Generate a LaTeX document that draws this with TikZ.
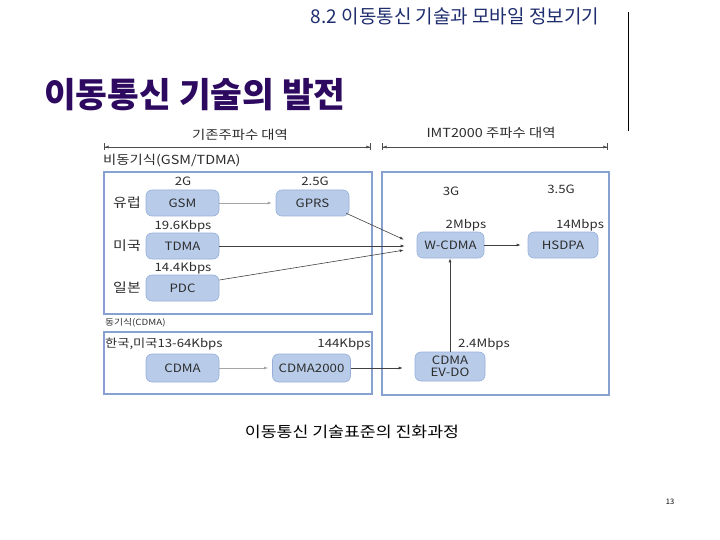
\documentclass[tikz,border=0pt]{standalone}
\usepackage{fontspec}
\newfontfamily\kr{Noto Sans CJK KR}
\newfontfamily\krw{Noto Sans CJK KR}[FakeStretch=1.15]
\usetikzlibrary{arrows.meta}
\definecolor{hdr}{RGB}{30,45,110}
\definecolor{ttl}{RGB}{45,10,95}
\definecolor{boxline}{RGB}{135,162,208}
\definecolor{nodefill}{RGB}{184,204,234}
\definecolor{nodeline}{RGB}{150,175,215}
\definecolor{txt}{RGB}{45,45,45}
\begin{document}
\begin{tikzpicture}[x=1pt,y=-1pt,
  every node/.style={font=\krw, text=txt, inner sep=0pt},
  outerbox/.style={draw=boxline, line width=1.8pt, fill=none},
  tech/.style={draw=nodeline, fill=nodefill, rounded corners=6pt, line width=0.6pt, font=\krw\fontsize{11.5}{12.5}\selectfont},
  lbl/.style={font=\krw\fontsize{11.5}{13}\selectfont},
  biglbl/.style={font=\krw\fontsize{12.5}{14}\selectfont},
  conn/.style={draw=black!75, line width=0.6pt, -{Latex[length=4pt,width=3pt]}},
  lightconn/.style={draw=black!35, line width=0.6pt, -{Latex[length=4pt,width=3pt]}},
  dim/.style={draw=black!70, line width=0.6pt, {Bar[width=7pt]Latex[length=4pt,width=3pt]}-{Latex[length=4pt,width=3pt]Bar[width=7pt]}}
]
\useasboundingbox (0,0) rectangle (720,540);
% header
\node[font=\kr\fontsize{19}{22}\selectfont, text=hdr] (hdrtxt) at (455,16) {8.2 이동통신 기술과 모바일 정보기기};
\coordinate (vtop) at (628,12);
\coordinate (vbot) at (628,131);
\draw[line width=1pt, black] (vtop) -- (vbot);
\node[font=\kr\bfseries\fontsize{34.5}{38}\selectfont, text=ttl, anchor=west] (title) at (44,95) {이동통신 기술의 발전};
% dimension lines
\coordinate (d1a) at (104,147); \coordinate (d1b) at (371,147);
\coordinate (d2a) at (382,147); \coordinate (d2b) at (608,147);
\draw[dim] (d1a) -- (d1b);
\draw[dim] (d2a) -- (d2b);
\node[biglbl] (band1) at (240,135) {기존주파수 대역};
\node[biglbl] (band2) at (491,133) {IMT2000 주파수 대역};
% group labels
\node[biglbl, anchor=west] (async) at (103,161) {비동기식(GSM/TDMA)};
\node[font=\krw\fontsize{8.5}{9}\selectfont, anchor=west] (sync) at (105,323) {동기식(CDMA)};
% outer boxes
\node[outerbox, minimum width=268pt, minimum height=142pt] (box1) at (238,243) {};
\node[outerbox, minimum width=227pt, minimum height=223pt] (box2) at (495.5,283.5) {};
\node[outerbox, minimum width=268pt, minimum height=62pt] (box3) at (238,363) {};
% tech nodes
\node[tech, minimum width=73pt, minimum height=26pt] (gsm) at (182.5,203) {GSM};
\node[tech, minimum width=73pt, minimum height=26pt] (gprs) at (312.5,203) {GPRS};
\node[tech, minimum width=73pt, minimum height=26pt] (tdma) at (182.5,246) {TDMA};
\node[tech, minimum width=73pt, minimum height=26pt] (pdc) at (182.5,288) {PDC};
\node[tech, minimum width=67pt, minimum height=26pt] (wcdma) at (450.5,245) {W-CDMA};
\node[tech, minimum width=70pt, minimum height=26pt] (hsdpa) at (563,245) {HSDPA};
\node[tech, minimum width=73pt, minimum height=28pt] (cdma) at (182.5,368) {CDMA};
\node[tech, minimum width=78pt, minimum height=28pt] (cdmak) at (311.5,368) {CDMA2000};
\node[tech, minimum width=70pt, minimum height=29pt, align=center, font=\krw\fontsize{11.5}{12}\selectfont] (evdo) at (450,366.5) {CDMA\\EV-DO};
% labels
\node[lbl] (g2) at (183,181) {2G};
\node[lbl] (g25) at (315,181) {2.5G};
\node[font=\krw\fontsize{13}{15}\selectfont] (eu) at (127,203) {유럽};
\node[font=\krw\fontsize{13}{15}\selectfont] (us) at (127,246) {미국};
\node[font=\krw\fontsize{13}{15}\selectfont] (jp) at (127,288) {일본};
\node[lbl] (r196) at (183,226) {19.6Kbps};
\node[lbl] (r144) at (183,268) {14.4Kbps};
\node[lbl] (g3) at (451,191) {3G};
\node[lbl] (g35) at (561,189) {3.5G};
\node[lbl] (r2m) at (466,225) {2Mbps};
\node[lbl] (r14m) at (580,225) {14Mbps};
\node[lbl, anchor=west] (krus) at (105,344) {한국,미국13-64Kbps};
\node[lbl] (r144k) at (344,344) {144Kbps};
\node[lbl, anchor=west] (r24m) at (458,344) {2.4Mbps};
% connectors
\draw[lightconn, shorten >=4pt] (gsm.east) -- (gprs.west);
\draw[conn, shorten >=1pt] ([xshift=-3pt,yshift=3pt]gprs.south east) -- ([xshift=-12pt,yshift=5pt]wcdma.west);
\draw[conn, shorten >=12pt] (tdma.east) -- (tdma.east -| wcdma.west);
\draw[conn, shorten >=1pt] ([yshift=8pt]pdc.east) -- ([xshift=-12pt,yshift=-5pt]wcdma.west);
\draw[conn, shorten >=7pt] (wcdma.east) -- (hsdpa.west);
\draw[lightconn, shorten >=4pt] (cdma.east) -- (cdmak.west);
\draw[conn, shorten >=12pt] (cdmak.east) -- (cdmak.east -| evdo.west);
\draw[conn] (evdo.north) -- (evdo.north |- wcdma.south);
% caption and page number
\node[font=\krw\fontsize{15}{17}\selectfont, text=black] (cap) at (352,432) {이동통신 기술표준의 진화과정};
\node[font=\kr\fontsize{7.5}{9}\selectfont, text=black] (pg) at (670,502) {13};
\end{tikzpicture}
\end{document}
